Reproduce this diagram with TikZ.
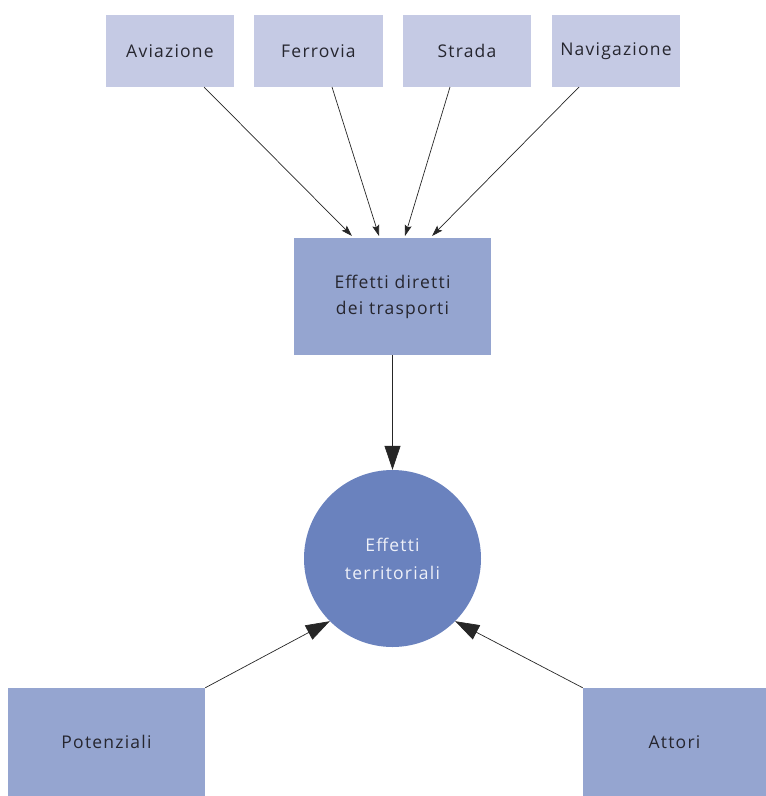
\documentclass[tikz,border=0pt]{standalone}
\usepackage{fontspec}
\setmainfont[LetterSpace=7]{Open Sans}
\usetikzlibrary{arrows.meta}
\definecolor{toplt}{HTML}{C5CAE4}
\definecolor{midbl}{HTML}{95A5D0}
\definecolor{circbl}{HTML}{6A82BE}
\definecolor{txtdk}{HTML}{26262F}
\definecolor{txtlt}{HTML}{EEF0F8}
\begin{document}
\begin{tikzpicture}[x=1pt,y=-1pt,
  topbox/.style={fill=toplt,inner sep=0pt,text=txtdk,font=\fontsize{17.5}{18}\selectfont},
  midbox/.style={fill=midbl,inner sep=0pt,text=txtdk,font=\fontsize{17.5}{26}\selectfont,align=center},
  circnode/.style={circle,fill=circbl,inner sep=0pt,minimum size=177pt,text=txtlt,font=\fontsize{17.5}{28}\selectfont,align=center},
  smallarr/.style={-{Stealth[length=11pt,width=7pt,inset=2pt]},line width=0.7pt,black!85},
  bigarr/.style={-{Triangle[length=24pt,width=16pt]},line width=0.7pt,black!85}]
\useasboundingbox (0,0) rectangle (766,796);
\node[topbox,minimum width=128pt,minimum height=72pt] (av) at (170,51) {Aviazione};
\node[topbox,minimum width=129pt,minimum height=72pt] (fe) at (318.5,51) {Ferrovia};
\node[topbox,minimum width=128pt,minimum height=72pt] (st) at (467,51) {Strada};
\node[topbox,minimum width=128pt,minimum height=72pt] (na) at (616,51) {Navigazione};
\node[midbox,minimum width=197pt,minimum height=117pt] (mid) at (392.5,296.5) {Effetti diretti\\dei trasporti};
\node[circnode] (ci) at (392.5,558.5) {Effetti\\territoriali};
\node[midbox,minimum width=197pt,minimum height=108pt] (po) at (106.5,742) {Potenziali};
\node[midbox,minimum width=183pt,minimum height=108pt] (at) at (674.5,742) {Attori};
\coordinate (avs) at (204,87);
\coordinate (fes) at (332,87);
\coordinate (sts) at (450,87);
\coordinate (nas) at (579,87);
\coordinate (ave) at (352,236);
\coordinate (fee) at (379,236);
\coordinate (ste) at (405,236);
\coordinate (nae) at (432,236);
\draw[smallarr] (avs) -- (ave);
\draw[smallarr] (fes) -- (fee);
\draw[smallarr] (sts) -- (ste);
\draw[smallarr] (nas) -- (nae);
\draw[bigarr] (mid.south) -- (ci.north);
\draw[bigarr] (po.north east) -- (ci.-135);
\draw[bigarr] (at.north west) -- (ci.-45);
\end{tikzpicture}
\end{document}
